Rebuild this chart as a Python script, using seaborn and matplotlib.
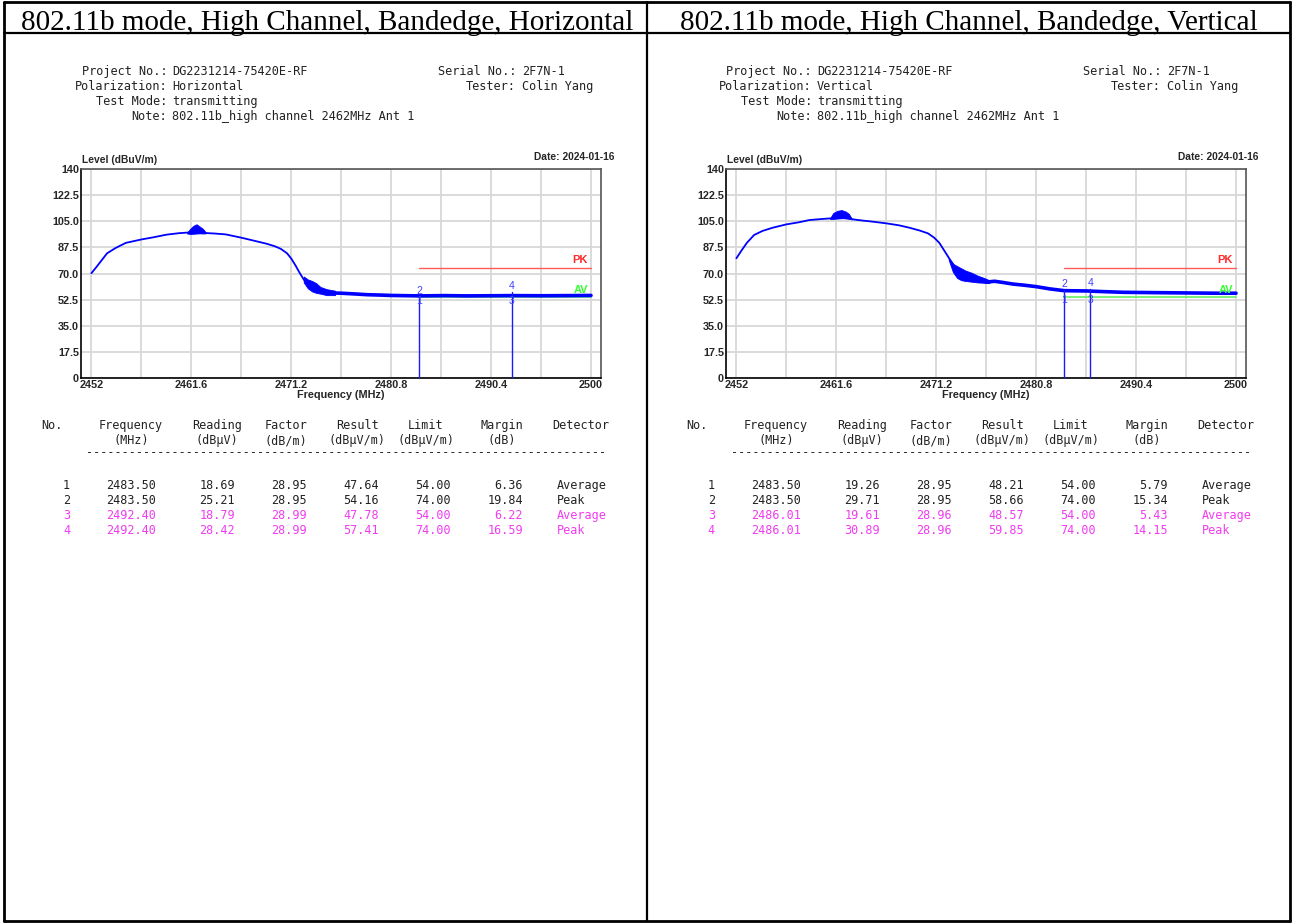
import matplotlib
matplotlib.use("Agg")
import numpy as np
import pandas as pd
import seaborn as sns
import matplotlib.pyplot as plt
from matplotlib.lines import Line2D

# --- spectrum traces (MHz, dBuV/m) ---
H_FREQ = [2452, 2452.5, 2453.0, 2453.5, 2454.3, 2455.3, 2456.8, 2458.0, 2459.2, 2460.4,
          2461.6, 2462.7, 2463.8, 2464.9, 2466.4, 2467.6, 2468.8, 2469.6, 2470.2, 2470.8,
          2471.2, 2471.6, 2472.0, 2472.4, 2472.8, 2473.4, 2474.0, 2474.8, 2476.0, 2477.3,
          2478.5, 2480.0, 2480.8, 2483.5, 2486.0, 2488.0, 2490.4, 2492.4, 2495.2, 2498.0, 2500]
H_LEVEL = [70.2, 74.5, 79.0, 83.5, 87.0, 90.5, 92.8, 94.3, 96.0, 97.0,
           97.6, 97.2, 96.8, 96.2, 94.0, 92.0, 90.0, 88.3, 86.5, 83.5,
           80.0, 75.5, 70.5, 66.0, 62.0, 59.5, 58.0, 57.0, 56.8, 56.3,
           55.8, 55.5, 55.3, 55.0, 55.2, 55.0, 55.1, 55.2, 55.1, 55.2, 55.3]
H_PEAK_F = [2461.2, 2461.5, 2461.8, 2462.1, 2462.4, 2462.7, 2463.0]
H_PEAK_HI = [97.5, 100.0, 102.0, 103.0, 101.5, 100.0, 97.5]
H_PEAK_LO = [96.8, 96.5, 96.6, 96.8, 96.9, 96.8, 96.9]
H_EDGE_F = [2472.4, 2472.8, 2473.2, 2473.6, 2474.0, 2474.6, 2475.4]
H_EDGE_HI = [68.0, 66.0, 65.0, 63.5, 61.0, 59.5, 58.5]
H_EDGE_LO = [64.0, 60.0, 58.0, 57.0, 56.5, 55.5, 55.5]

V_FREQ = [2452, 2452.5, 2453.0, 2453.7, 2454.5, 2455.5, 2456.8, 2458.0, 2459.0, 2460.2,
          2461.2, 2462.2, 2463.7, 2465.0, 2466.4, 2467.6, 2468.6, 2469.6, 2470.4, 2471.0,
          2471.5, 2472.0, 2472.5, 2473.0, 2473.5, 2474.0, 2475.0, 2476.1, 2476.8, 2477.6,
          2478.6, 2479.6, 2480.8, 2482.1, 2483.5, 2485.7, 2487.5, 2489.2, 2492.0, 2495.0,
          2498.0, 2500]
V_LEVEL = [80.2, 85.5, 90.5, 95.8, 98.5, 100.7, 102.9, 104.3, 105.8, 106.5,
           107.0, 107.3, 105.8, 104.8, 103.6, 102.3, 100.7, 98.8, 96.9, 94.0,
           90.5, 85.0, 79.5, 74.5, 70.5, 68.0, 66.0, 64.3, 64.8, 64.0,
           62.9, 62.2, 61.2, 59.7, 58.5, 58.3, 57.8, 57.4, 57.2, 57.0,
           56.8, 56.8]
V_PEAK_F = [2461.0, 2461.3, 2461.7, 2462.1, 2462.5, 2462.8, 2463.1]
V_PEAK_HI = [107.0, 110.5, 112.0, 112.5, 111.5, 110.0, 106.5]
V_PEAK_LO = [106.5, 106.6, 106.8, 107.0, 107.0, 106.8, 106.2]
V_EDGE_F = [2472.4, 2472.8, 2473.2, 2473.6, 2474.0, 2474.6, 2475.2, 2475.8, 2476.3]
V_EDGE_HI = [80.0, 76.5, 75.0, 73.5, 72.0, 70.5, 68.5, 67.0, 65.5]
V_EDGE_LO = [79.0, 71.0, 67.0, 65.5, 65.0, 64.5, 64.0, 63.8, 63.5]

# --- limits and axis ticks ---
PK_LIMIT = 74.0
AV_LIMIT = 54.0
LIMIT_START = 2483.5
LIMIT_END = 2500.0
X_TICKS = [2452, 2461.6, 2471.2, 2480.8, 2490.4, 2500]
X_MINOR = [2456.8, 2466.4, 2476.0, 2485.6, 2495.2]
Y_TICKS = [0, 17.5, 35, 52.5, 70, 87.5, 105, 122.5, 140]
Y_TICK_LABELS = ["0", "17.5", "35.0", "52.5", "70.0", "87.5", "105.0", "122.5", "140"]

# --- result tables ---
H_NO = [1, 2, 3, 4]
H_TFREQ = [2483.50, 2483.50, 2492.40, 2492.40]
H_READING = [18.69, 25.21, 18.79, 28.42]
H_FACTOR = [28.95, 28.95, 28.99, 28.99]
H_RESULT = [47.64, 54.16, 47.78, 57.41]
H_LIMIT = [54.00, 74.00, 54.00, 74.00]
H_MARGIN = [6.36, 19.84, 6.22, 16.59]
DETECTOR = ["Average", "Peak", "Average", "Peak"]

V_NO = [1, 2, 3, 4]
V_TFREQ = [2483.50, 2483.50, 2486.01, 2486.01]
V_READING = [19.26, 29.71, 19.61, 30.89]
V_FACTOR = [28.95, 28.95, 28.96, 28.96]
V_RESULT = [48.21, 58.66, 48.57, 59.85]
V_LIMIT = [54.00, 74.00, 54.00, 74.00]
V_MARGIN = [5.79, 15.34, 5.43, 14.15]

TITLES = ["802.11b mode, High Channel, Bandedge, Horizontal",
          "802.11b mode, High Channel, Bandedge, Vertical"]
POLARIZATION = ["Horizontal", "Vertical"]

sns.set_style("white")
plt.rcParams["font.family"] = ["Liberation Sans", "DejaVu Sans"]

W, H = 1292, 923
fig = plt.figure(figsize=(W / 100, H / 100), dpi=100)


def fx(x):
    return x / W


def fy(y):
    return 1 - y / H


def hline(x0, x1, y, lw=2.0):
    fig.add_artist(Line2D([fx(x0), fx(x1)], [fy(y), fy(y)], color="black", lw=lw))


def vline(x, y0, y1, lw=2.0):
    fig.add_artist(Line2D([fx(x), fx(x)], [fy(y0), fy(y1)], color="black", lw=lw))


def mtext(x, y, s, ha="left", color="#222222", size=8.6):
    # monospace text, y given as the visual centre of the line
    fig.text(fx(x), fy(y + 4), s, ha=ha, va="baseline", family="DejaVu Sans Mono",
             fontsize=size, color=color)


# outer table frame
hline(4, 1290, 2)
hline(4, 1290, 33, lw=1.6)
hline(4, 1290, 921)
vline(4, 2, 921)
vline(1290, 2, 921)
vline(647, 2, 921, lw=1.6)

txt_col = "#222222"
mag = "#f03cf0"

panels = [
    dict(dx=0, freq=H_FREQ, level=H_LEVEL, pf=H_PEAK_F, phi=H_PEAK_HI, plo=H_PEAK_LO,
         ef=H_EDGE_F, ehi=H_EDGE_HI, elo=H_EDGE_LO,
         tab=(H_NO, H_TFREQ, H_READING, H_FACTOR, H_RESULT, H_LIMIT, H_MARGIN)),
    dict(dx=645, freq=V_FREQ, level=V_LEVEL, pf=V_PEAK_F, phi=V_PEAK_HI, plo=V_PEAK_LO,
         ef=V_EDGE_F, ehi=V_EDGE_HI, elo=V_EDGE_LO,
         tab=(V_NO, V_TFREQ, V_READING, V_FACTOR, V_RESULT, V_LIMIT, V_MARGIN)),
]

for i, p in enumerate(panels):
    dx = p["dx"]

    # title cell
    fig.text(fx(327 + dx * 0.995), fy(30), TITLES[i], ha="center", va="baseline",
             fontsize=21, family="Liberation Serif", color="black")

    # test header
    left_rows = [("Project No.:", "DG2231214-75420E-RF"), ("Polarization:", POLARIZATION[i]),
                 ("Test Mode:", "transmitting"), ("Note:", "802.11b_high channel 2462MHz Ant 1")]
    for k, (lab, val) in enumerate(left_rows):
        y = 71 + 15 * k
        mtext(167 + dx, y, lab, ha="right")
        mtext(172 + dx, y, val)
    for k, (lab, val) in enumerate([("Serial No.:", "2F7N-1"), ("Tester:", "Colin Yang")]):
        y = 71 + 15 * k
        mtext(516 + dx, y, lab, ha="right")
        mtext(522 + dx, y, val)

    # chart
    ax = fig.add_axes([fx(81 + dx), fy(378), 520 / W, 209 / H])
    df = pd.DataFrame({"freq": p["freq"], "level": p["level"]})
    sns.lineplot(data=df, x="freq", y="level", ax=ax, color="#0000ff", lw=1.3,
                 estimator=None, sort=False, zorder=4)
    floor = df[df["freq"] >= 2474.0]
    sns.lineplot(data=floor, x="freq", y="level", ax=ax, color="#0000ff", lw=2.6,
                 estimator=None, sort=False, zorder=4)
    ax.fill_between(p["pf"], p["plo"], p["phi"], color="#0000ff", lw=0.6, zorder=4)
    ax.fill_between(p["ef"], p["elo"], p["ehi"], color="#0000ff", lw=0.6, zorder=4)

    # limit lines
    ax.plot([LIMIT_START, LIMIT_END], [PK_LIMIT, PK_LIMIT], color="#ff5a5a", lw=1.0, zorder=3)
    ax.plot([LIMIT_START, LIMIT_END], [AV_LIMIT, AV_LIMIT], color="#66ee66", lw=1.2, zorder=3)
    ax.text(LIMIT_END - 0.3, PK_LIMIT + 1.5, "PK", color="#ff2a2a", ha="right", va="bottom",
            fontsize=8, fontweight="bold")
    ax.text(LIMIT_END - 0.3, AV_LIMIT + 1.5, "AV", color="#33ff33", ha="right", va="bottom",
            fontsize=8, fontweight="bold", zorder=5)

    # markers
    no, tf, rd, fc, rs, lm, mg = p["tab"]
    for k in range(0, 4, 2):
        f = tf[k]
        ax.plot([f, f], [0, rs[k + 1]], color="#1a1aff", lw=1.0, zorder=5)
        ax.text(f, rs[k + 1] + 4, str(no[k + 1]), color="#4040ff", ha="center", va="center",
                fontsize=7.5, zorder=6)
        ax.text(f, rs[k] + 4, str(no[k]), color="#4040ff", ha="center", va="center",
                fontsize=7.5, zorder=6)

    ax.set_xlim(2451.0, 2500.96)
    ax.set_ylim(0, 140)
    ax.set_xticks(X_TICKS)
    ax.set_xticks(X_MINOR, minor=True)
    ax.set_xticklabels([f"{t:g}" for t in X_TICKS], fontsize=7.8, fontweight="bold")
    ax.set_yticks(Y_TICKS)
    ax.set_yticklabels(Y_TICK_LABELS, fontsize=7.8, fontweight="bold")
    ax.tick_params(axis="both", which="both", length=0, pad=1.5)
    ax.grid(True, which="both", color="#d8d8d8", lw=1.3)
    ax.set_axisbelow(True)
    ax.set_xlabel("Frequency (MHz)", fontsize=7.8, fontweight="bold", labelpad=0)
    ax.set_ylabel("")
    for side in ["top", "right"]:
        ax.spines[side].set_color("#555555")
        ax.spines[side].set_linewidth(1.2)
    for side in ["left", "bottom"]:
        ax.spines[side].set_color("black")
        ax.spines[side].set_linewidth(1.2)

    fig.text(fx(82 + dx), fy(160), "Level (dBuV/m)", ha="left", va="center", fontsize=7.4,
             fontweight="bold")
    fig.text(fx(614 + dx), fy(157), "Date: 2024-01-16", ha="right", va="center", fontsize=7.4,
             fontweight="bold")

    # result table
    heads = [("No.", "", 41, "left"), ("Frequency", "(MHz)", 131, "center"),
             ("Reading", "(dBμV)", 217, "center"), ("Factor", "(dB/m)", 286, "center"),
             ("Result", "(dBμV/m)", 357, "center"), ("Limit", "(dBμV/m)", 426, "center"),
             ("Margin", "(dB)", 502, "center"), ("Detector", "", 552, "left")]
    for h1, h2, x, ha in heads:
        mtext(x + dx, 425, h1, ha=ha, size=8.5)
        if h2:
            mtext(x + dx, 440, h2, ha=ha, size=8.5)
    mtext(86 + dx, 452, "-" * 73, size=8.5)

    right_edges = [70, 156, 235, 307, 379, 451, 523]
    for r in range(4):
        col = txt_col if r < 2 else mag
        cells = [str(no[r]), f"{tf[r]:.2f}", f"{rd[r]:.2f}", f"{fc[r]:.2f}", f"{rs[r]:.2f}",
                 f"{lm[r]:.2f}", f"{mg[r]:.2f}"]
        y = 485 + 15 * r
        for c, xr in zip(cells, right_edges):
            mtext(xr + dx, y, c, ha="right", color=col, size=8.5)
        mtext(557 + dx, y, DETECTOR[r], color=col, size=8.5)

fig.savefig("out.png", dpi=100, facecolor="white")
